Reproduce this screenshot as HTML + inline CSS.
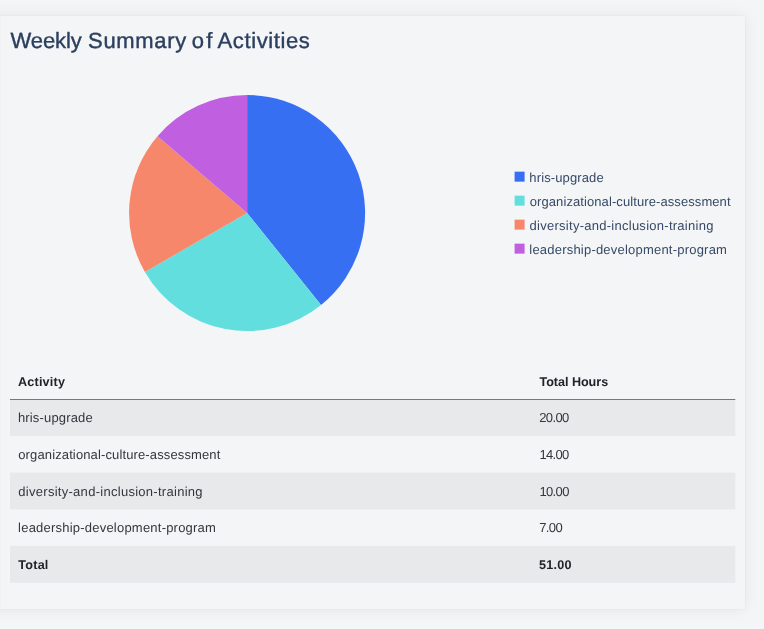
<!DOCTYPE html>
<html lang="en">
<head>
<meta charset="utf-8">
<title>Weekly Summary of Activities</title>
<style>
html,body{margin:0;padding:0;}
body{width:764px;height:629px;background:#f3f5f7;font-family:"Liberation Sans",sans-serif;position:relative;overflow:hidden;text-rendering:geometricPrecision;}
span{position:relative;display:inline-block;white-space:nowrap;}
.title span{position:absolute;top:0;}
.card{position:absolute;left:-30px;top:16px;width:775px;height:593px;background:#f4f5f7;border-radius:1px;box-shadow:0 0 16px rgba(0,0,0,0.07),0 0 2px rgba(0,0,0,0.07);}
.edge{position:absolute;left:0;top:16px;width:1px;height:593px;background:rgba(0,0,0,0.016);}
.title{position:absolute;left:0;top:27px;transform:translateY(-0.45px);width:400px;height:28px;margin:0;font-weight:400;font-size:22px;line-height:28px;color:#2b3f5e;-webkit-text-stroke:0.4px #2b3f5e;white-space:nowrap;word-spacing:0;}
svg.gfx{position:absolute;left:0;top:0;}
.legend{position:absolute;left:514px;top:166px;margin:0;padding:0;list-style:none;}
.legend li{position:relative;height:24px;line-height:24px;font-size:13px;color:#374966;white-space:nowrap;padding-left:14.9px;}
.legend li i{position:absolute;left:0;top:6px;width:10px;height:10px;transform:translate(0.6px,-0.35px);}
table{position:absolute;left:10px;top:363px;width:725px;border-collapse:collapse;table-layout:fixed;font-size:13px;color:#35363c;}
th,td{height:36.7px;padding:0 0 0 8px;text-align:left;box-sizing:border-box;white-space:nowrap;vertical-align:middle;}
th{height:36.3px;font-weight:700;color:#222328;font-size:12.6px;}
tr.total td{font-weight:700;color:#222328;font-size:12.6px;}
th span{transform:translateY(0.7px);}
tr.total span{transform:translateY(0.9px);}
</style>
</head>
<body>
<div class="card"></div>
<div class="edge"></div>
<svg class="gfx" width="764" height="629" viewBox="0 0 764 629">
<rect x="10" y="399.3" width="725.3" height="36.7" fill="#e8e9eb"/>
<rect x="10" y="472.6" width="725.3" height="36.9" fill="#e8e9eb"/>
<rect x="10" y="545.8" width="725.3" height="37" fill="#e8e9eb"/>
<rect x="10" y="399" width="725.3" height="1" fill="#77787b"/>
<path d="M247.1,213 L247.10,95.00 A118,118 0 0 1 321.08,304.93 Z" fill="#376ff3"/>
<path d="M247.1,213 L321.08,304.93 A118,118 0 0 1 144.91,272.00 Z" fill="#63dede"/>
<path d="M247.1,213 L144.91,272.00 A118,118 0 0 1 157.49,136.23 Z" fill="#f6876a"/>
<path d="M247.1,213 L157.49,136.23 A118,118 0 0 1 247.10,95.00 Z" fill="#c060e1"/>
</svg>
<h2 class="title"><span id="t1" style="left:10.50px;letter-spacing:-0.113px">Weekly</span> <span id="t2" style="left:88.09px;letter-spacing:0.654px">Summary</span> <span id="t3" style="left:191.72px;letter-spacing:2.349px">of</span> <span id="t4" style="left:217.60px;letter-spacing:0.604px">Activities</span></h2>
<ul class="legend">
<li><i style="background:#376ff3"></i><span id="l1" style="left:0.48px;letter-spacing:0.123px">hris-upgrade</span></li>
<li><i style="background:#63dede"></i><span id="l2" style="left:0.84px;letter-spacing:0.089px">organizational-culture-assessment</span></li>
<li><i style="background:#f6876a"></i><span id="l3" style="left:0.69px;letter-spacing:0.265px">diversity-and-inclusion-training</span></li>
<li><i style="background:#c060e1"></i><span id="l4" style="left:0.41px;letter-spacing:0.211px">leadership-development-program</span></li>
</ul>
<table>
<colgroup><col style="width:521px"><col style="width:204px"></colgroup>
<thead><tr><th><span id="h1" style="left:-0.09px;letter-spacing:0.226px">Activity</span></th><th><span id="h2" style="left:0.48px;letter-spacing:-0.035px">Total Hours</span></th></tr></thead>
<tbody>
<tr><td><span id="a1" style="left:-0.09px;letter-spacing:0.164px">hris-upgrade</span></td><td><span id="v1" style="left:0.15px;letter-spacing:-0.605px">20.00</span></td></tr>
<tr><td><span id="a2" style="left:0.26px;letter-spacing:0.127px">organizational-culture-assessment</span></td><td><span id="v2" style="left:0.40px;letter-spacing:-0.668px">14.00</span></td></tr>
<tr><td><span id="a3" style="left:0.31px;letter-spacing:0.281px">diversity-and-inclusion-training</span></td><td><span id="v3" style="left:0.47px;letter-spacing:-0.652px">10.00</span></td></tr>
<tr><td><span id="a4" style="left:0.09px;letter-spacing:0.218px">leadership-development-program</span></td><td><span id="v4" style="left:0.15px;letter-spacing:-0.606px">7.00</span></td></tr>
<tr class="total"><td><span id="a5" style="left:0.35px;letter-spacing:0.218px">Total</span></td><td><span id="v5" style="left:-0.04px;letter-spacing:0.279px">51.00</span></td></tr>
</tbody>
</table>
</body>
</html>
